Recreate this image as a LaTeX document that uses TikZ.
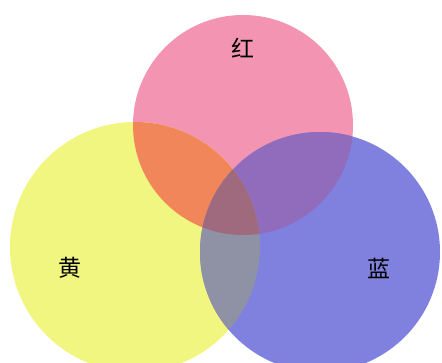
\documentclass[tikz,border=0pt]{standalone}
\usepackage{fontspec}
\newfontfamily\cjk{Noto Sans CJK SC}
\definecolor{hong}{RGB}{242,148,178}
\definecolor{huang}{RGB}{241,246,128}
\definecolor{lan}{RGB}{128,128,222}
\definecolor{cheng}{RGB}{240,134,90}
\definecolor{zi}{RGB}{146,108,188}
\definecolor{lv}{RGB}{142,146,164}
\definecolor{he}{RGB}{160,106,126}
\tikzset{colorname/.style={font=\cjk\fontsize{23}{23}\selectfont}}
\begin{document}
\begin{tikzpicture}[x=1pt,y=-1pt]
\useasboundingbox (0,0) rectangle (442,363);
\clip (0,0) rectangle (442,363);
\coordinate (R) at (243,125);
\coordinate (Y) at (135,247);
\coordinate (B) at (320,252);
% 三个圆
\fill[hong] (R) circle (110);
\fill[huang] (Y) circle (125);
\fill[lan] (B) circle (120);
% 红黄
\begin{scope}
\clip (R) circle (110);
\fill[cheng] (Y) circle (125);
\end{scope}
% 红蓝
\begin{scope}
\clip (R) circle (110);
\fill[zi] (B) circle (120);
\end{scope}
% 黄蓝
\begin{scope}
\clip (Y) circle (125);
\fill[lv] (B) circle (120);
\end{scope}
% 中间
\begin{scope}
\clip (R) circle (110);
\clip (Y) circle (125);
\fill[he] (B) circle (120);
\end{scope}
% 文字
\node[colorname] (hongzi) at (243,48) {红};
\node[colorname] (huangzi) at (70,268) {黄};
\node[colorname] (lanzi) at (379,268) {蓝};
\end{tikzpicture}
\end{document}
